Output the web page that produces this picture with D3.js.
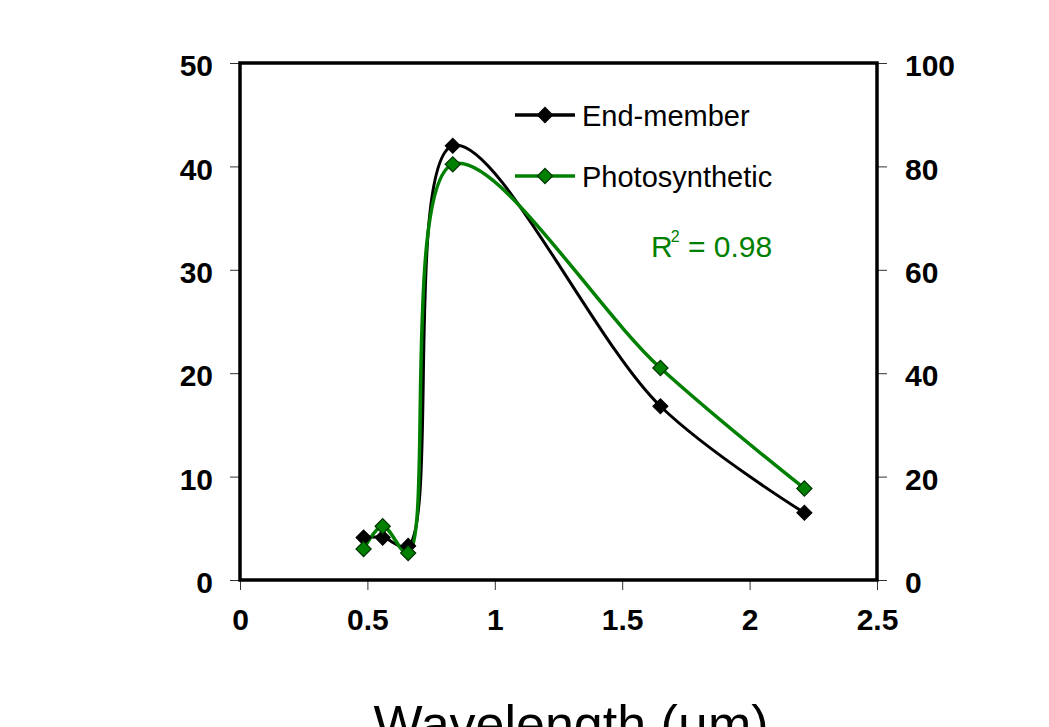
<!DOCTYPE html>
<html>
<head>
<meta charset="utf-8">
<script src="https://cdn.jsdelivr.net/npm/d3@7"></script>
<style>
  body { margin: 0; background: #fff; }
  svg { display: block; font-family: "Liberation Sans", Arial, sans-serif; }
</style>
</head>
<body>
<svg id="chart" width="1049" height="727"></svg>
<script>
// band centres (um)
var wavelengths = [0.485, 0.56, 0.66, 0.835, 1.65, 2.215];
// left axis series
var endMember = [4.1, 4.1, 3.3, 42.0, 16.8, 6.5];
// right axis series
var photosynthetic = [6.0, 10.4, 5.2, 80.4, 41.0, 17.7];

var xTicks = [0, 0.5, 1, 1.5, 2, 2.5];
var leftTicks = [0, 10, 20, 30, 40, 50];
var rightTicks = [0, 20, 40, 60, 80, 100];
var seriesNames = ["End-member", "Photosynthetic"];
var r2Label = "0.98";

(function() {
  var green = "#008000";
  var svg = d3.select("#chart");

  var plotLeft = 240, plotRight = 877, plotTop = 63, plotBottom = 580;

  var x = d3.scaleLinear().domain([0, 2.5]).range([plotLeft, plotRight]);
  var yL = d3.scaleLinear().domain([0, 50]).range([plotBottom, plotTop]);
  var yR = d3.scaleLinear().domain([0, 100]).range([plotBottom, plotTop]);

  svg.append("rect").attr("width", 1049).attr("height", 727).attr("fill", "#fff");

  // axes
  var gx = svg.append("g").attr("transform", "translate(0," + plotBottom + ")")
    .call(d3.axisBottom(x).tickValues(xTicks).tickSize(10).tickPadding(14)
      .tickFormat(function(d) { return d3.format("")(d); }));
  var gl = svg.append("g").attr("transform", "translate(" + plotLeft + ",0)")
    .call(d3.axisLeft(yL).tickValues(leftTicks).tickSize(10).tickPadding(17));
  var gr = svg.append("g").attr("transform", "translate(" + plotRight + ",0)")
    .call(d3.axisRight(yR).tickValues(rightTicks).tickSize(10).tickPadding(18));

  [gx, gl, gr].forEach(function(g) {
    g.select(".domain").remove();
    g.selectAll(".tick line").attr("stroke", "#333").attr("stroke-width", 1);
    g.selectAll(".tick text").attr("fill", "#000")
      .style("font-size", "30px").style("font-weight", "bold");
  });
  gx.selectAll(".tick text").attr("dy", "0.71em").attr("y", 29);
  gl.selectAll(".tick text").attr("dy", "0.42em");
  gr.selectAll(".tick text").attr("dy", "0.42em");

  // frame
  svg.append("rect")
    .attr("x", plotLeft).attr("y", plotTop)
    .attr("width", plotRight - plotLeft).attr("height", plotBottom - plotTop)
    .attr("fill", "none").attr("stroke", "#000").attr("stroke-width", 3.5);

  // smoothed lines
  var smooth = d3.curveCatmullRom.alpha(0.5);
  var lineL = d3.line().curve(smooth)
    .x(function(d, i) { return x(wavelengths[i]); })
    .y(function(d) { return yL(d); });
  var lineR = d3.line().curve(smooth)
    .x(function(d, i) { return x(wavelengths[i]); })
    .y(function(d) { return yR(d); });

  svg.append("path").datum(endMember).attr("d", lineL)
    .attr("fill", "none").attr("stroke", "#000").attr("stroke-width", 3);
  svg.append("path").datum(photosynthetic).attr("d", lineR)
    .attr("fill", "none").attr("stroke", green).attr("stroke-width", 3.5);

  var diamond = d3.symbol().type(d3.symbolSquare).size(115);

  svg.selectAll(".mk-em").data(endMember).enter().append("path")
    .attr("class", "mk-em")
    .attr("d", diamond)
    .attr("transform", function(d, i) { return "translate(" + x(wavelengths[i]) + "," + yL(d) + ") rotate(45)"; })
    .attr("fill", "#000").attr("stroke", "#000").attr("stroke-width", 1);

  svg.selectAll(".mk-ph").data(photosynthetic).enter().append("path")
    .attr("class", "mk-ph")
    .attr("d", diamond)
    .attr("transform", function(d, i) { return "translate(" + x(wavelengths[i]) + "," + yR(d) + ") rotate(45)"; })
    .attr("fill", green).attr("stroke", "#003300").attr("stroke-width", 1.2);

  // legend
  var legend = svg.append("g");
  var legendColors = ["#000", green];
  var legendStroke = ["#000", "#003300"];
  seriesNames.forEach(function(name, i) {
    var ly = 115 + i * 61;
    legend.append("line").attr("x1", 515).attr("x2", 575).attr("y1", ly).attr("y2", ly)
      .attr("stroke", legendColors[i]).attr("stroke-width", 3.5);
    legend.append("path").attr("d", diamond)
      .attr("transform", "translate(545," + ly + ") rotate(45)")
      .attr("fill", legendColors[i]).attr("stroke", legendStroke[i]).attr("stroke-width", 1.2);
    legend.append("text").attr("x", 582).attr("y", ly + 10.5)
      .style("font-size", "29px").attr("fill", "#000").text(name);
  });

  // R squared
  var r2 = svg.append("text").attr("x", 651).attr("y", 257)
    .attr("fill", green).style("font-size", "30px");
  r2.append("tspan").text("R");
  r2.append("tspan").attr("dy", -15).attr("dx", -2).style("font-size", "16px").text("2");
  r2.append("tspan").attr("dy", 15).text(" = " + r2Label);

  // x axis title (cut at bottom edge)
  svg.append("text").attr("x", 571).attr("y", 742)
    .attr("text-anchor", "middle").style("font-size", "52px").attr("fill", "#000")
    .text("Wavelength (\u03bcm)");
})();
</script>
</body>
</html>
